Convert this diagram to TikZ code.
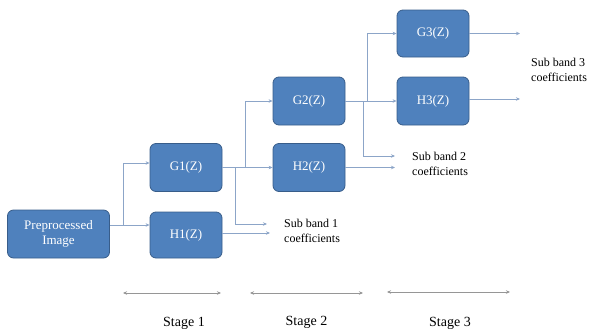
\documentclass[tikz,border=0pt]{standalone}
\usepackage{fontspec}
\setmainfont{Liberation Serif}
\usetikzlibrary{arrows.meta}
\definecolor{boxblue}{RGB}{79,129,189}
\definecolor{boxedge}{RGB}{56,93,138}
\definecolor{conncol}{RGB}{140,165,200}
\definecolor{stagegray}{RGB}{150,150,150}
\begin{document}
\begin{tikzpicture}[x=1pt,y=-1pt,
  blk/.style={draw=boxedge, line width=0.8pt, fill=boxblue, rounded corners=6pt,
    text=white, font=\fontsize{13}{15}\selectfont, align=center, inner sep=0pt,
    minimum width=72pt, minimum height=48pt},
  conn/.style={draw=conncol, line width=0.8pt, -{Stealth[length=4pt,width=3.5pt]}},
  plainline/.style={draw=conncol, line width=0.8pt},
  lbl/.style={font=\fontsize{12}{15}\selectfont, align=left, anchor=west, inner sep=0pt},
  stg/.style={draw=stagegray, line width=0.8pt,
    {Stealth[length=4pt,width=3.5pt]}-{Stealth[length=4pt,width=3.5pt]}},
  stl/.style={font=\fontsize{14}{16}\selectfont, inner sep=0pt}]
\useasboundingbox (0,0) rectangle (590,333);

% blocks
\node[blk, minimum width=102pt] (pre) at (58.5,234) {Preprocessed\\Image};
\node[blk] (g1) at (186,167.5) {G1(Z)};
\node[blk, minimum height=46pt] (h1) at (186,235) {H1(Z)};
\node[blk] (g2) at (309,101) {G2(Z)};
\node[blk] (h2) at (309,167.5) {H2(Z)};
\node[blk, minimum height=47pt] (g3) at (433,33.5) {G3(Z)};
\node[blk] (h3) at (433,101) {H3(Z)};

% labels
\node[lbl] (sb1) at (284,230.5) {Sub band 1\\coefficients};
\node[lbl] (sb2) at (412,163.5) {Sub band 2\\coefficients};
\node[lbl] (sb3) at (531,69.5) {Sub band 3\\coefficients};

% junctions and free ends
\coordinate (j1) at (123,225);
\coordinate (j2) at (235,167.5);
\coordinate (j2b) at (245,167.5);
\coordinate (j3) at (367,101);
\coordinate (j3b) at (363,101);
\coordinate (sb1a) at (267,224);
\coordinate (sb1b) at (270,233);
\coordinate (sb2a) at (395,156);
\coordinate (sb2b) at (395,167.5);
\coordinate (sb3a) at (520,33.5);
\coordinate (sb3b) at (520,99);

% stage 1
\draw[plainline] (pre.east |- j1) -- (j1);
\draw[conn] (j1) |- ([yshift=4.5pt]g1.west);
\draw[conn] (j1) -- (h1.west |- j1);

% stage 2
\draw[conn] (g1.east) -- (h2.west);
\draw[conn] (j2b) |- (g2.west);
\draw[conn] (j2) |- (sb1a);
\draw[conn] ([yshift=2pt]h1.east) -- (sb1b);

% stage 3
\draw[conn] (g2.east) -- (h3.west);
\draw[conn] (j3) |- (g3.west);
\draw[conn] (j3b) |- (sb2a);
\draw[conn] (h2.east) -- (sb2b);
\draw[conn] (g3.east) -- (sb3a);
\draw[conn] ([yshift=2pt]h3.east) -- (sb3b);

% stage markers
\coordinate (s1a) at (123,293);
\coordinate (s1b) at (221,293);
\coordinate (s2a) at (250,293);
\coordinate (s2b) at (363,293);
\coordinate (s3a) at (387,292);
\coordinate (s3b) at (510,292);
\draw[stg] (s1a) -- (s1b);
\draw[stg] (s2a) -- (s2b);
\draw[stg] (s3a) -- (s3b);
\node[stl] (st1) at (184,323) {Stage 1};
\node[stl] (st2) at (306.5,322) {Stage 2};
\node[stl] (st3) at (450,323) {Stage 3};
\end{tikzpicture}
\end{document}
